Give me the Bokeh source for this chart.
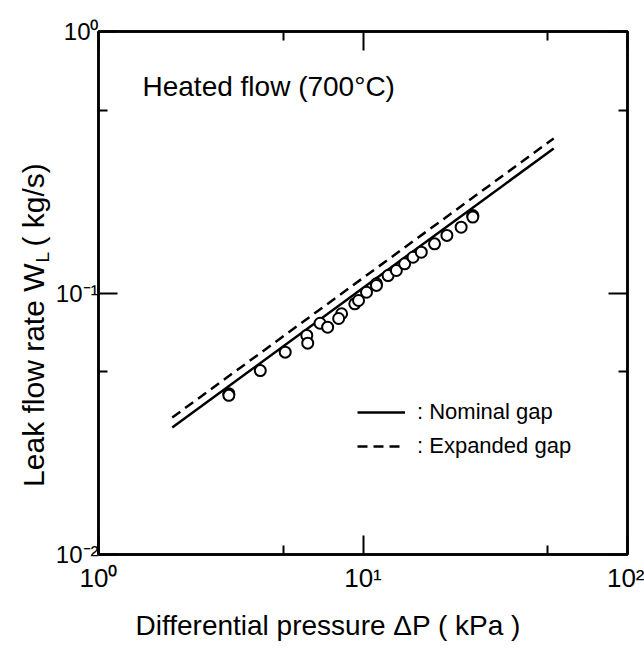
import math
from bokeh.plotting import figure
from bokeh.layouts import row
from bokeh.models import (Range1d, LogAxis, FixedTicker, Label, Legend,
                          LegendItem, Title)
from bokeh.embed import file_html
from bokeh.resources import INLINE

# ---------------- data ----------------
pressure_kpa = [3.11, 3.11, 4.09, 5.08, 6.13, 6.18, 6.88, 7.35, 8.30, 8.09,
                9.31, 9.62, 10.31, 11.24, 11.24, 12.44, 13.37, 14.37, 15.46,
                16.61, 18.64, 20.76, 23.50, 26.01, 26.01]
leak_flow = [0.0412, 0.0406, 0.0505, 0.0594, 0.0688, 0.0643, 0.0766, 0.0740,
             0.0833, 0.0799, 0.0909, 0.0936, 0.1007, 0.1084, 0.1069, 0.1166,
             0.1219, 0.1293, 0.1370, 0.1432, 0.1542, 0.1660, 0.1785, 0.1979,
             0.1952]

nominal_dp = [1.90, 52.6]
nominal_w = [0.0306, 0.357]
expanded_dp = [1.90, 52.6]
expanded_w = [0.0334, 0.390]

x_ticks = [1, 10, 100]
x_minor = [5, 50]
y_ticks = [0.01, 0.1, 1]
y_minor = [0.05, 0.5]
x_tick_labels = ["10\u2070", "10\u00b9", "10\u00b2"]
y_tick_labels = ["10\u207b\u00b2", "10\u207b\u00b9", "10\u2070"]

x_title = "Differential pressure \u0394P ( kPa )"
y_title_main = "Leak flow rate W"
y_title_sub = "L"
y_title_unit = "( kg/s)"
panel_text = "Heated flow (700°C)"

FONT = "Liberation Sans"
STRIP_W = 52
TOTAL_W, TOTAL_H = 644, 662
TOP, BOTTOM = 31, 108
FRAME_H = TOTAL_H - TOP - BOTTOM

p = figure(width=TOTAL_W - STRIP_W, height=TOTAL_H, x_axis_type="log", y_axis_type="log",
           x_range=Range1d(1, 100), y_range=Range1d(0.01, 1),
           output_backend="svg", toolbar_location=None,
           min_border_left=96 - STRIP_W, min_border_right=17,
           min_border_top=TOP, min_border_bottom=BOTTOM,
           background_fill_color="white", border_fill_color="white")
p.grid.visible = False
p.outline_line_color = "black"
p.outline_line_width = 2.5

p.add_layout(LogAxis(), "above")
p.add_layout(LogAxis(), "right")


def style(ax, ticks, minor, labels, show, standoff, size):
    ax.ticker = FixedTicker(ticks=ticks, minor_ticks=minor)
    ax.major_tick_in = 19
    ax.major_tick_out = 0
    ax.minor_tick_in = 9
    ax.minor_tick_out = 0
    ax.major_tick_line_width = 2
    ax.minor_tick_line_width = 2
    ax.axis_line_width = 2.5
    ax.major_label_overrides = {t: (l if show else "") for t, l in zip(ticks, labels)}
    ax.major_label_text_font = FONT
    ax.major_label_text_color = "black"
    ax.major_label_text_font_size = size if show else "1px"
    ax.major_label_standoff = standoff
    ax.axis_label = None


for ax in p.below:
    style(ax, x_ticks, x_minor, x_tick_labels, True, 8, "26px")
for ax in p.above:
    style(ax, x_ticks, x_minor, x_tick_labels, False, 0, "1px")
for ax in p.left:
    style(ax, y_ticks, y_minor, y_tick_labels, True, 0, "24px")
for ax in p.right:
    style(ax, y_ticks, y_minor, y_tick_labels, False, 0, "1px")

# lines
r_nom = p.line(nominal_dp, nominal_w, line_color="black", line_width=2.5)
r_exp = p.line(expanded_dp, expanded_w, line_color="black", line_width=2.5,
               line_dash="10 6")

# measured points
p.scatter(pressure_kpa, leak_flow, marker="circle", size=11,
          fill_color="white", line_color="black", line_width=2)

legend = Legend(items=[LegendItem(label=": Nominal gap", renderers=[r_nom]),
                       LegendItem(label=": Expanded gap", renderers=[r_exp])],
                location=(259, 95), glyph_width=48, glyph_height=20,
                label_standoff=12, spacing=8, padding=0, margin=0,
                border_line_alpha=0, background_fill_alpha=0,
                label_text_font=FONT, label_text_font_size="22px",
                label_text_color="black")
p.add_layout(legend, "center")

# panel text
p.add_layout(Label(x=1, y=1, x_offset=44, y_offset=-55, text=panel_text,
                   text_font=FONT, text_font_size="28px", text_color="black",
                   text_baseline="alphabetic", text_align="left"))

# x axis title
p.add_layout(Title(text=x_title, align="left", offset=37, standoff=24,
                   text_font=FONT, text_font_size="28px",
                   text_font_style="normal", text_color="black"), "below")

# y axis title strip (left); shares the y scale of the main plot
ylab = figure(width=STRIP_W, height=TOTAL_H, x_range=Range1d(0, STRIP_W),
              y_range=p.y_range, y_axis_type="log", output_backend="svg",
              toolbar_location=None, min_border_left=0, min_border_right=0,
              min_border_top=TOP, min_border_bottom=BOTTOM,
              x_axis_location=None, y_axis_location=None,
              background_fill_color="white", border_fill_color="white")
ylab.grid.visible = False
ylab.outline_line_color = None


def y_at(px):
    # vertical position (pixels from top of page) expressed on the log y scale
    return 10 ** (-2.0 * (px - TOP) / FRAME_H)


ang = math.pi / 2
ylab.add_layout(Label(x=32.5, y=y_at(263), angle=ang, text=y_title_main,
                      text_font=FONT, text_font_size="30px", text_color="black",
                      text_baseline="alphabetic", text_align="right"))
ylab.add_layout(Label(x=41.5, y=y_at(262), angle=ang, text=y_title_sub,
                      text_font=FONT, text_font_size="19px", text_color="black",
                      text_baseline="alphabetic", text_align="left"))
ylab.add_layout(Label(x=32.5, y=y_at(246), angle=ang, text=y_title_unit,
                      text_font=FONT, text_font_size="30px", text_color="black",
                      text_baseline="alphabetic", text_align="left"))

layout = row(ylab, p, spacing=0)
open("out.html", "w").write(file_html(layout, INLINE))
